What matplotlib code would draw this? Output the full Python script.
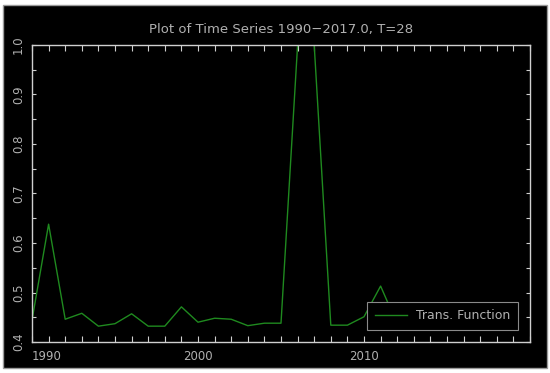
import matplotlib.pyplot as plt
from matplotlib.patches import Rectangle
from matplotlib.ticker import MultipleLocator

years = list(range(1990, 2018))
trans_function = [0.444, 0.638, 0.446, 0.458, 0.432, 0.437, 0.457, 0.432, 0.432, 0.471,
                  0.440, 0.448, 0.446, 0.433, 0.438, 0.438, 1.000, 1.000, 0.434, 0.434,
                  0.451, 0.513, 0.436, 0.440, 0.438, 0.441, 0.437, 0.440]
xtick_years = list(range(1990, 2021))
xtick_labels = {1990: '1990', 2000: '2000', 2010: '2010'}

fg = '#cfcfcf'
txt = '#b0b0b0'
green = '#1f8a1f'
fig = plt.figure(figsize=(5.5, 3.73), dpi=100, facecolor='white')
# outer black panel with thin grey border
fig.patches.append(Rectangle((3 / 550, 5 / 373), 544 / 550, 363 / 373, transform=fig.transFigure,
                             facecolor='black', edgecolor='#9a9a9a', lw=1, zorder=-1))

ax = fig.add_axes([32 / 550, 1 - 342 / 373, 498 / 550, 297 / 373])
ax.set_facecolor('black')
ax.plot(years, trans_function, color=green, lw=1.0, label='Trans. Function')

ax.set_xlim(1990, 2020)
ax.set_ylim(0.4, 1.0)
ax.set_xticks(xtick_years, labels=[xtick_labels.get(y, '') for y in xtick_years])
ax.yaxis.set_major_locator(MultipleLocator(0.1))
ax.yaxis.set_minor_locator(MultipleLocator(0.05))

for s in ax.spines.values():
    s.set_color(fg)
    s.set_linewidth(1)
ax.tick_params(axis='both', which='both', direction='in', colors=fg, labelcolor=txt,
               top=True, right=True, labelsize=8.5, width=0.8)
ax.tick_params(axis='x', which='major', length=4, pad=6)
ax.tick_params(axis='y', which='both', length=3, pad=5)
for lbl in ax.get_yticklabels():
    lbl.set_rotation(90)
    lbl.set_va('center')
ax.get_xticklabels()[0].set_ha('left')

ax.set_title('Plot of Time Series 1990\u22122017.0, T=28', color=txt, fontsize=9.5, pad=9)

leg = ax.legend(loc='lower right', fontsize=9, frameon=True, fancybox=False,
                facecolor='black', edgecolor='#8a8a8a', labelcolor=txt, handlelength=2.6,
                handletextpad=0.7, borderpad=0.6, borderaxespad=1.0, framealpha=1)
leg.get_frame().set_linewidth(0.8)

fig.savefig('out.png', dpi=100, facecolor=fig.get_facecolor())
